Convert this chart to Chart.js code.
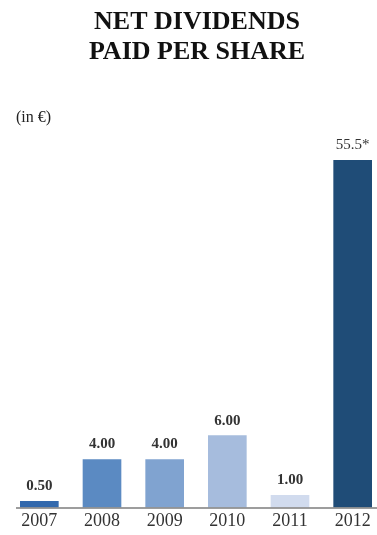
<!DOCTYPE html>
<html>
<head>
<meta charset="utf-8">
<script src="https://cdn.jsdelivr.net/npm/chart.js@4.4.1/dist/chart.umd.min.js"></script>
<style>
  html, body { margin: 0; padding: 0; background: #fff; overflow: hidden; }
  #wrap { position: relative; width: 384px; height: 535px; }
</style>
</head>
<body>
<div id="wrap"><canvas id="dividends" width="384" height="535"></canvas></div>
<script>
// data
const years = ['2007', '2008', '2009', '2010', '2011', '2012'];
const dividends = [0.5, 4, 4, 6, 1, 55.5];
const valueLabels = ['0.50', '4.00', '4.00', '6.00', '1.00', '55.5*'];
const titleLines = ['NET DIVIDENDS', 'PAID PER SHARE'];
const unitLabel = '(in €)';

const barColors = ['#3369ad', '#5b8ac2', '#80a3d0', '#a6bcdd', '#d1dbee', '#1f4c77'];
const serif = "'Liberation Serif', 'Times New Roman', serif";

// title + unit text, axis line and value labels
const decorations = {
  id: 'decorations',
  beforeDraw(chart) {
    const ctx = chart.ctx;
    ctx.save();
    ctx.fillStyle = '#111';
    ctx.textAlign = 'center';
    ctx.textBaseline = 'alphabetic';
    ctx.font = 'bold 26px ' + serif;
    ctx.fillText(titleLines[0], 197, 29);
    ctx.fillText(titleLines[1], 197, 59);
    ctx.textAlign = 'left';
    ctx.font = '16px ' + serif;
    ctx.fillStyle = '#222';
    ctx.fillText(unitLabel, 16, 122);
    ctx.restore();
  },
  afterDatasetsDraw(chart) {
    const ctx = chart.ctx;
    const area = chart.chartArea;
    const y0 = chart.scales.y.getPixelForValue(0);
    ctx.save();
    ctx.strokeStyle = '#7d7d7d';
    ctx.lineWidth = 1.5;
    ctx.beginPath();
    ctx.moveTo(16, y0 + 0.5);
    ctx.lineTo(area.right, y0 + 0.5);
    ctx.stroke();

    ctx.fillStyle = '#333';
    ctx.textAlign = 'center';
    ctx.textBaseline = 'alphabetic';
    chart.getDatasetMeta(0).data.forEach((bar, i) => {
      const clipped = dividends[i] > chart.scales.y.max;
      ctx.font = (clipped ? '' : 'bold ') + '15px ' + serif;
      const top = Math.max(bar.y, area.top);
      ctx.fillText(valueLabels[i], bar.x, top - 11);
    });
    ctx.restore();
  }
};

new Chart(document.getElementById('dividends'), {
  type: 'bar',
  data: {
    labels: years,
    datasets: [{
      data: dividends,
      backgroundColor: barColors,
      borderWidth: 0,
      barThickness: 38
    }]
  },
  options: {
    responsive: false,
    animation: false,
    layout: { padding: { left: 8, right: 0, top: 160, bottom: 0 } },
    plugins: {
      legend: { display: false },
      tooltip: { enabled: false }
    },
    scales: {
      x: {
        grid: { display: false, drawTicks: false },
        border: { display: false },
        ticks: {
          color: '#333',
          padding: 3,
          font: { family: serif, size: 18 }
        }
      },
      y: {
        display: false,
        min: 0,
        max: 29
      }
    }
  },
  plugins: [decorations]
});
</script>
</body>
</html>
